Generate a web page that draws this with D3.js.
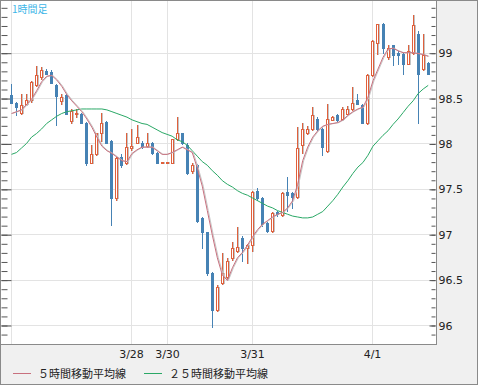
<!DOCTYPE html>
<html>
<head>
<meta charset="utf-8">
<script src="https://cdn.jsdelivr.net/npm/d3@7"></script>
<style>
  body { margin: 0; background: #fff; }
  svg { display: block; }
</style>
</head>
<body>
<div id="chart"></div>
<script>
// hourly candles
var opens = [98.53,98.45,98.34,98.44,98.48,98.64,98.73,98.80,98.79,98.64,
  98.47,98.53,98.25,98.32,98.33,98.23,97.79,97.88,98.11,98.24,
  98.03,97.40,97.85,97.78,97.95,98.01,98.01,97.97,98.01,97.90,
  97.79,97.79,97.79,98.05,98.11,97.98,97.70,97.76,97.18,97.02,
  96.57,96.16,96.46,96.53,96.74,96.81,96.96,96.85,96.88,97.48,
  97.40,97.12,97.04,97.24,97.21,97.46,97.45,97.41,97.98,98.11,
  98.16,98.27,98.16,97.92,98.26,98.31,98.27,98.33,98.38,98.48,
  98.42,98.22,98.75,99.11,99.32,98.95,99.08,99.00,98.99,98.88,
  99.00,99.21,98.82,98.89]
var highs = [98.65,98.46,98.55,98.55,98.69,98.85,98.84,98.82,98.81,98.65,
  98.55,98.54,98.38,98.38,98.34,98.24,97.98,98.12,98.34,98.25,
  98.04,97.85,97.88,98.11,98.16,98.20,98.03,98.12,98.02,97.91,
  97.80,97.80,98.05,98.29,98.12,98.00,97.78,97.77,97.19,97.03,
  96.58,96.44,96.79,96.74,96.91,97.08,96.98,96.89,97.48,97.51,
  97.41,97.13,97.24,97.26,97.46,97.63,97.47,98.18,98.22,98.19,
  98.40,98.29,98.18,98.44,98.30,98.33,98.40,98.41,98.62,98.55,
  98.43,98.76,99.14,99.32,99.33,99.08,99.09,99.02,99.00,99.08,
  99.41,99.24,99.21,98.90]
var lows = [98.45,98.31,98.33,98.42,98.46,98.63,98.71,98.76,98.67,98.20,
  98.44,98.32,98.22,98.29,98.23,97.76,97.78,97.87,98.03,98.00,
  97.10,97.38,97.74,97.77,97.93,98.00,97.95,97.96,97.88,97.78,
  97.79,97.79,97.79,98.04,97.99,97.66,97.68,97.14,96.85,96.55,
  95.98,96.15,96.45,96.52,96.72,96.80,96.71,96.68,96.82,97.38,
  97.09,97.03,97.03,97.20,97.20,97.26,97.29,97.40,97.89,98.10,
  98.15,98.15,97.87,97.91,98.26,98.25,98.26,98.32,98.37,98.43,
  98.22,98.21,98.74,98.99,99.00,98.93,98.86,98.87,98.77,98.87,
  98.99,98.23,98.81,98.77]
var closes = [98.45,98.40,98.42,98.48,98.68,98.75,98.81,98.77,98.67,98.52,
  98.51,98.33,98.36,98.34,98.23,97.78,97.88,98.11,98.23,98.01,
  97.40,97.84,97.76,97.96,97.97,98.07,97.96,98.01,97.89,97.79,
  97.80,97.80,98.05,98.11,98.00,97.67,97.76,97.15,97.02,96.57,
  96.16,96.42,96.57,96.71,96.85,96.86,96.85,96.88,97.46,97.40,
  97.11,97.04,97.23,97.22,97.45,97.43,97.41,97.95,98.16,98.16,
  98.31,98.16,97.96,98.27,98.29,98.26,98.38,98.38,98.45,98.44,
  98.23,98.75,99.13,99.32,99.05,99.05,98.97,98.98,98.88,99.02,
  99.30,98.77,98.97,98.77]

// moving averages as drawn
var ma5 = [98.33,98.35,98.37,98.43,98.49,98.58,98.68,98.74,98.75,98.70,
  98.63,98.54,98.47,98.41,98.35,98.27,98.18,98.07,97.97,97.92,
  97.89,97.85,97.81,97.80,97.89,97.93,97.96,97.96,97.96,97.92,
  97.88,97.88,97.90,97.93,97.96,97.93,97.90,97.73,97.53,97.26,
  96.99,96.74,96.55,96.49,96.63,96.74,96.80,96.88,96.97,97.05,
  97.11,97.15,97.19,97.22,97.24,97.29,97.37,97.55,97.81,97.96,
  98.07,98.14,98.19,98.21,98.22,98.23,98.26,98.31,98.35,98.38,
  98.40,98.51,98.69,98.82,98.95,99.04,99.05,99.02,99.00,99.00,
  99.00,98.99,98.98,98.96]
var ma25 = [97.88,97.90,97.95,98.00,98.07,98.11,98.16,98.22,98.26,98.30,
  98.33,98.35,98.36,98.37,98.38,98.38,98.38,98.38,98.38,98.37,
  98.35,98.33,98.31,98.29,98.26,98.24,98.22,98.21,98.18,98.15,
  98.12,98.10,98.08,98.04,98.02,97.98,97.92,97.86,97.80,97.76,
  97.70,97.65,97.59,97.55,97.52,97.48,97.45,97.43,97.40,97.37,
  97.34,97.31,97.29,97.26,97.24,97.22,97.20,97.19,97.18,97.18,
  97.19,97.22,97.25,97.31,97.37,97.44,97.52,97.59,97.67,97.74,
  97.79,97.87,97.97,98.03,98.09,98.14,98.21,98.27,98.34,98.41,
  98.47,98.55,98.60,98.64]

var yTicks = [96, 96.5, 97, 97.5, 98, 98.5, 99]
var dayIndex = [0, 24, 31, 48, 72]
var dayLabels = ["", "3/28", "3/30", "3/31", "4/1"]
var legendNames = ["５時間移動平均線", "２５時間移動平均線"]
var title = "1時間足"

var width = 478,
    height = 385
var plot = {left: 1, right: 436, top: 1, bottom: 344}

var upColor = "#e0603c",
    downColor = "#4682b4",
    ma5Color = "#c8707e",
    ma25Color = "#2aa866"

var svg = d3.select("#chart")
  .append("svg")
    .attr("width", width)
    .attr("height", height)
    .style("font-family", "'DejaVu Sans', sans-serif")

svg.append("rect")
  .attr("width", width).attr("height", height)
  .attr("fill", "#f0f0f0")

svg.append("rect")
  .attr("x", plot.left).attr("y", plot.top)
  .attr("width", plot.right - plot.left)
  .attr("height", plot.bottom - plot.top)
  .attr("fill", "#fff")

var x = d3.scaleLinear().domain([0, opens.length - 1]).range([11, 427.7])
var y = d3.scaleLinear().domain([96, 99]).range([325, 52.7])

function px(i) { return Math.round(x(i)) }
function py(v) { return Math.round(y(v)) }

// grid
svg.selectAll("hgrid")
  .data(yTicks)
  .enter()
  .append("line")
    .attr("x1", plot.left).attr("x2", plot.right)
    .attr("y1", function(d){ return py(d) + 0.5 })
    .attr("y2", function(d){ return py(d) + 0.5 })
    .attr("stroke", "#e3e3e3")

svg.selectAll("vgrid")
  .data(dayIndex)
  .enter()
  .append("line")
    .attr("x1", function(d){ return px(d) + 0.5 })
    .attr("x2", function(d){ return px(d) + 0.5 })
    .attr("y1", plot.top).attr("y2", plot.bottom)
    .attr("stroke", "#e3e3e3")

// axes ticks
var minorTicks = d3.range(959, 996).map(function(k){ return k / 10 })

function tickAxis(g, values, len, labels) {
  var ax = d3.axisRight(y).tickValues(values).tickSizeOuter(0)
    .tickSizeInner(len).tickPadding(2)
  if (labels) ax.tickFormat(function(d){ return String(d) })
  else ax.tickFormat("")
  g.call(ax)
  g.select(".domain").remove()
  g.selectAll(".tick line").attr("stroke", "#555")
}

svg.append("g").attr("transform", "translate(" + (plot.left + 0.5) + ",0.5)")
  .call(tickAxis, minorTicks, 6, false)
svg.append("g").attr("transform", "translate(" + (plot.left + 0.5) + ",0.5)")
  .call(tickAxis, yTicks, 10, false)

svg.append("g").attr("transform", "translate(" + (plot.right - 0.5) + ",0.5)")
  .call(tickAxis, minorTicks, -4, false)
var rAxis = svg.append("g").attr("transform", "translate(" + (plot.right - 0.5) + ",0.5)")
rAxis.call(tickAxis, yTicks, -6, true)
rAxis.selectAll("text")
  .attr("x", 3)
  .style("font-family", "'DejaVu Sans', sans-serif")
  .style("font-size", "11px")
  .attr("fill", "#222")

// plot frame
svg.append("rect")
  .attr("x", plot.left - 0.5).attr("y", plot.top - 0.5)
  .attr("width", plot.right - plot.left + 1)
  .attr("height", plot.bottom - plot.top + 1)
  .attr("fill", "none")
  .attr("stroke", "#8a8a8a")

// candles
var idx = d3.range(opens.length)
var candles = svg.append("g")

idx.forEach(function(i) {
  var up = closes[i] >= opens[i]
  var cx = px(i)
  var top = py(Math.max(opens[i], closes[i]))
  var bot = py(Math.min(opens[i], closes[i]))
  var hi = py(highs[i]), lo = py(lows[i])
  var col = up ? upColor : downColor

  if (up) {
    candles.append("line")
      .attr("x1", cx + 1.5).attr("x2", cx + 1.5)
      .attr("y1", hi).attr("y2", lo + 1)
      .attr("stroke", "#c4c4c4")
  }
  candles.append("line")
    .attr("x1", cx + 0.5).attr("x2", cx + 0.5)
    .attr("y1", hi).attr("y2", lo + 1)
    .attr("stroke", col)

  if (up) {
    candles.append("rect")
      .attr("x", cx + 2).attr("y", top)
      .attr("width", 1).attr("height", Math.max(bot - top + 1, 1))
      .attr("fill", "#c4c4c4")
    if (bot - top >= 2) {
      candles.append("rect")
        .attr("x", cx - 0.5).attr("y", top + 0.5)
        .attr("width", 2).attr("height", bot - top)
        .attr("fill", "#fff")
        .attr("stroke", col)
    } else {
      candles.append("rect")
        .attr("x", cx - 1).attr("y", top)
        .attr("width", 3).attr("height", Math.max(bot - top + 1, 1))
        .attr("fill", col)
    }
  } else {
    candles.append("rect")
      .attr("x", cx - 1).attr("y", top)
      .attr("width", 3).attr("height", Math.max(bot - top + 1, 1))
      .attr("fill", col)
  }
})

// moving averages
var line = d3.line()
  .x(function(d, i){ return x(i) + 0.5 })
  .y(function(d){ return y(d) })

svg.append("path").datum(ma25)
  .attr("d", line)
  .attr("fill", "none")
  .attr("stroke", ma25Color)
  .attr("stroke-width", 1)

svg.append("path").datum(ma5)
  .attr("d", line)
  .attr("transform", "translate(1,0)")
  .attr("fill", "none")
  .attr("stroke", "#c6c6c6")
  .attr("stroke-width", 1)

svg.append("path").datum(ma5)
  .attr("d", line)
  .attr("fill", "none")
  .attr("stroke", ma5Color)
  .attr("stroke-width", 1)

// title
svg.append("text")
  .attr("x", 12).attr("y", 13)
  .style("font-family", "'Noto Sans CJK JP', sans-serif")
  .style("font-size", "10px")
  .attr("fill", "#3cb6e8")
  .text(title)

// date labels
svg.selectAll("daylabels")
  .data(dayIndex)
  .enter()
  .append("text")
    .attr("x", function(d){ return px(d) + 0.5 })
    .attr("y", 358)
    .attr("text-anchor", "middle")
    .style("font-size", "11px")
    .attr("fill", "#222")
    .text(function(d, i){ return dayLabels[i] })

// legend
var legendX = [13, 144]
var legendColors = [ma5Color, ma25Color]

svg.selectAll("legendlines")
  .data(legendNames)
  .enter()
  .append("line")
    .attr("x1", function(d, i){ return legendX[i] })
    .attr("x2", function(d, i){ return legendX[i] + 18 })
    .attr("y1", 373.5).attr("y2", 373.5)
    .attr("stroke", function(d, i){ return legendColors[i] })

svg.selectAll("legendtext")
  .data(legendNames)
  .enter()
  .append("text")
    .attr("x", function(d, i){ return legendX[i] + 25 })
    .attr("y", 377.5)
    .style("font-family", "'Noto Sans CJK JP', sans-serif")
    .style("font-size", "11px")
    .attr("fill", "#222")
    .text(function(d){ return d })

// outer border
svg.append("rect")
  .attr("x", 0.5).attr("y", 0.5)
  .attr("width", width - 1).attr("height", height - 1)
  .attr("fill", "none")
  .attr("stroke", "#8a8a8a")
</script>
</body>
</html>
